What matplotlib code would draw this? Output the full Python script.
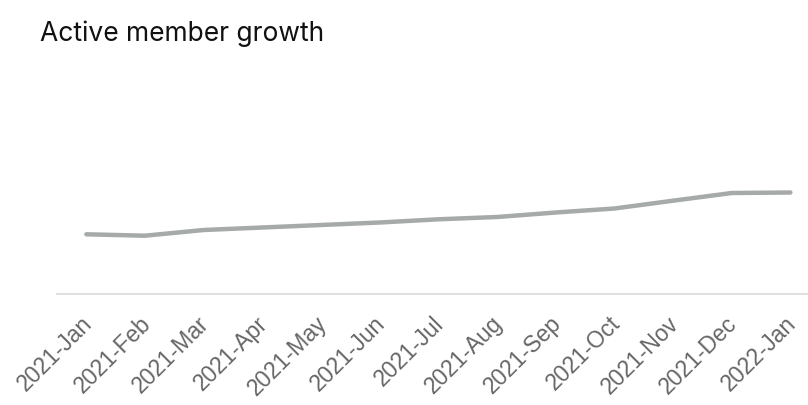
import matplotlib
matplotlib.use("Agg")
import matplotlib.pyplot as plt
from matplotlib.transforms import ScaledTranslation

# monthly active members
months = [
    "2021-Jan", "2021-Feb", "2021-Mar", "2021-Apr", "2021-May", "2021-Jun",
    "2021-Jul", "2021-Aug", "2021-Sep", "2021-Oct", "2021-Nov", "2021-Dec",
    "2022-Jan",
]
active_members = [5970, 5830, 6400, 6650, 6900, 7150, 7470, 7700, 8150, 8550, 9330, 10100, 10150]

fig = plt.figure(figsize=(8.08, 4.05), dpi=100, facecolor="white")
ax = fig.add_axes([57 / 808, 111 / 405, 751 / 808, 224 / 405])

x = list(range(len(months)))
ax.plot(x, active_members, color="#a6aaa9", linewidth=3.2,
        solid_capstyle="round", solid_joinstyle="round")

ax.set_xlim(-0.5, 12.3)
ax.set_ylim(0, 22400)
ax.set_xticks(x)
ax.set_xticklabels(months, rotation=45, ha="right", rotation_mode="anchor",
                   fontsize=16.5, color="#666666", family="Liberation Sans")
ax.tick_params(axis="x", length=0, pad=13)
ax.set_yticks([])

# nudge the slanted month labels a little to the left
nudge = ScaledTranslation(-0.06, 0, fig.dpi_scale_trans)
for label in ax.get_xticklabels():
    label.set_transform(label.get_transform() + nudge)

for side in ("top", "right", "left"):
    ax.spines[side].set_visible(False)
ax.spines["bottom"].set_color("#d9d9d9")
ax.spines["bottom"].set_linewidth(1.2)

fig.text(40 / 808, 1 - 41 / 405, "Active member growth", fontsize=19,
         color="#111111", family="Inter", va="baseline", ha="left")

fig.savefig("out.png", dpi=100)
